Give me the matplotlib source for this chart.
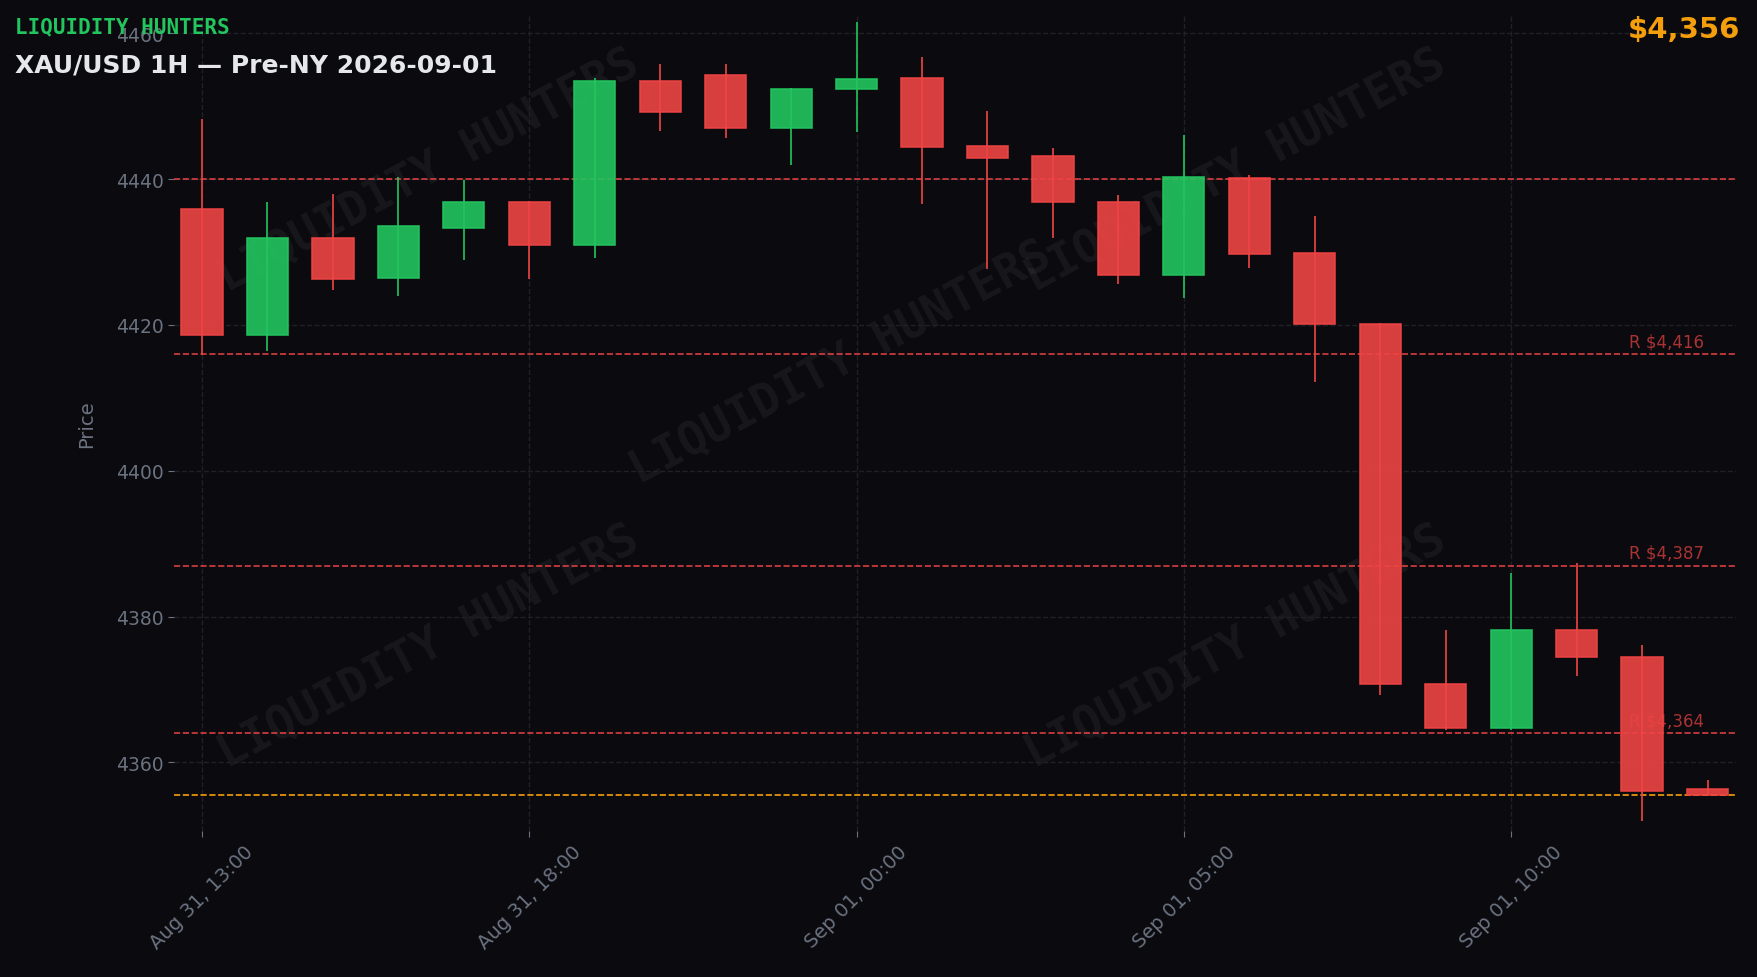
import matplotlib
matplotlib.use("Agg")
import matplotlib.pyplot as plt

# hourly candles, Aug 31 13:00 -> Sep 01 13:00 (no 22:00 bar)
opens  = [4435.9, 4418.6, 4431.9, 4426.5, 4433.3, 4436.8, 4431.0, 4453.5, 4454.3, 4447.0,
          4452.4, 4453.9, 4444.6, 4443.1, 4436.9, 4426.8, 4440.2, 4429.9, 4420.1, 4370.8,
          4364.7, 4378.2, 4374.5, 4356.3]
highs  = [4448.2, 4436.9, 4438.0, 4440.3, 4439.9, 4437.0, 4453.8, 4455.8, 4455.8, 4452.5,
          4461.6, 4456.7, 4449.4, 4444.2, 4437.8, 4446.1, 4440.6, 4435.0, 4420.3, 4378.1,
          4386.0, 4387.3, 4376.1, 4357.6]
lows   = [4415.9, 4416.4, 4424.8, 4424.0, 4428.9, 4426.3, 4429.2, 4446.6, 4445.7, 4441.9,
          4446.5, 4436.6, 4427.7, 4431.9, 4425.6, 4423.7, 4427.8, 4412.2, 4369.3, 4364.5,
          4364.4, 4371.8, 4352.0, 4355.5]
closes = [4418.6, 4431.9, 4426.3, 4433.5, 4436.8, 4431.0, 4453.5, 4449.2, 4447.0, 4452.4,
          4453.7, 4444.4, 4442.9, 4436.8, 4426.8, 4440.3, 4429.7, 4420.1, 4370.7, 4364.7,
          4378.2, 4374.5, 4356.1, 4355.6]

tick_idx = [0, 5, 10, 15, 20]
tick_labels = ["Aug 31, 13:00", "Aug 31, 18:00", "Sep 01, 00:00", "Sep 01, 05:00", "Sep 01, 10:00"]

resistance = [4416, 4387, 4364]
extra_level = 4440
last_price = closes[-1]

BG = "#0a0a0f"
GREEN = "#22c55e"
RED = "#ef4444"
ORANGE = "#f59e0b"
MUTED = "#6b7280"
GRID = "#1f2028"

fig = plt.figure(figsize=(17.58, 9.78), dpi=100, facecolor=BG)
ax = fig.add_axes([0.0989, 0.1493, 0.8884, 0.8343])
ax.set_facecolor(BG)

# watermark
for wx, wy in [(0.163, 0.81), (0.68, 0.81), (0.427, 0.575), (0.163, 0.227), (0.68, 0.227)]:
    ax.text(wx, wy, "LIQUIDITY HUNTERS", transform=ax.transAxes, ha="center", va="center",
            rotation=28, fontsize=33, family="DejaVu Sans Mono", fontweight="bold",
            color="white", alpha=0.055, zorder=0)

xs = list(range(len(opens)))
for i in xs:
    o, h, l, c = opens[i], highs[i], lows[i], closes[i]
    col = GREEN if c >= o else RED
    ax.vlines(i, l, h, color=col, linewidth=1.2, zorder=3)
    ax.bar(i, abs(c - o), bottom=min(o, c), width=0.63, color=col, alpha=0.9,
           edgecolor=col, linewidth=1.2, zorder=4)

ax.axhline(extra_level, color=RED, linestyle="--", linewidth=1.2, alpha=0.9, zorder=2)
for r in resistance:
    ax.axhline(r, color=RED, linestyle="--", linewidth=1.2, alpha=0.9, zorder=2)
    ax.text(0.98, r + 0.5, f"R ${r:,}", transform=ax.get_yaxis_transform(), ha="right",
            va="bottom", fontsize=12, color=RED, alpha=0.7, zorder=5)
ax.axhline(last_price, color=ORANGE, linestyle="--", linewidth=1.2, zorder=2)

ax.set_xlim(-0.43, 23.43)
ax.set_ylim(4350.6, 4462.5)
ax.set_xticks(tick_idx)
ax.set_xticklabels(tick_labels, rotation=45, ha="center")
ax.set_yticks([4360, 4380, 4400, 4420, 4440, 4460])
ax.tick_params(colors=MUTED, length=4)
ax.tick_params(axis="y", labelsize=13.5)
ax.tick_params(axis="x", labelsize=14)
ax.grid(True, color=GRID, linestyle="--", linewidth=1)
ax.set_axisbelow(True)
for s in ax.spines.values():
    s.set_visible(False)
ax.set_ylabel("Price", color=MUTED, fontsize=14, labelpad=14)

fig.text(0.0085, 0.966, "LIQUIDITY HUNTERS", color=GREEN, fontsize=15,
         family="DejaVu Sans Mono", fontweight="bold", va="baseline")
fig.text(0.0085, 0.926, "XAU/USD 1H \u2014 Pre-NY 2026-09-01", color="#e5e7eb",
         fontsize=18, fontweight="bold", va="baseline")
fig.text(0.990, 0.961, f"${last_price:,.0f}", color=ORANGE, fontsize=21,
         fontweight="bold", ha="right", va="baseline")

fig.savefig("out.png", dpi=100, facecolor=BG)
